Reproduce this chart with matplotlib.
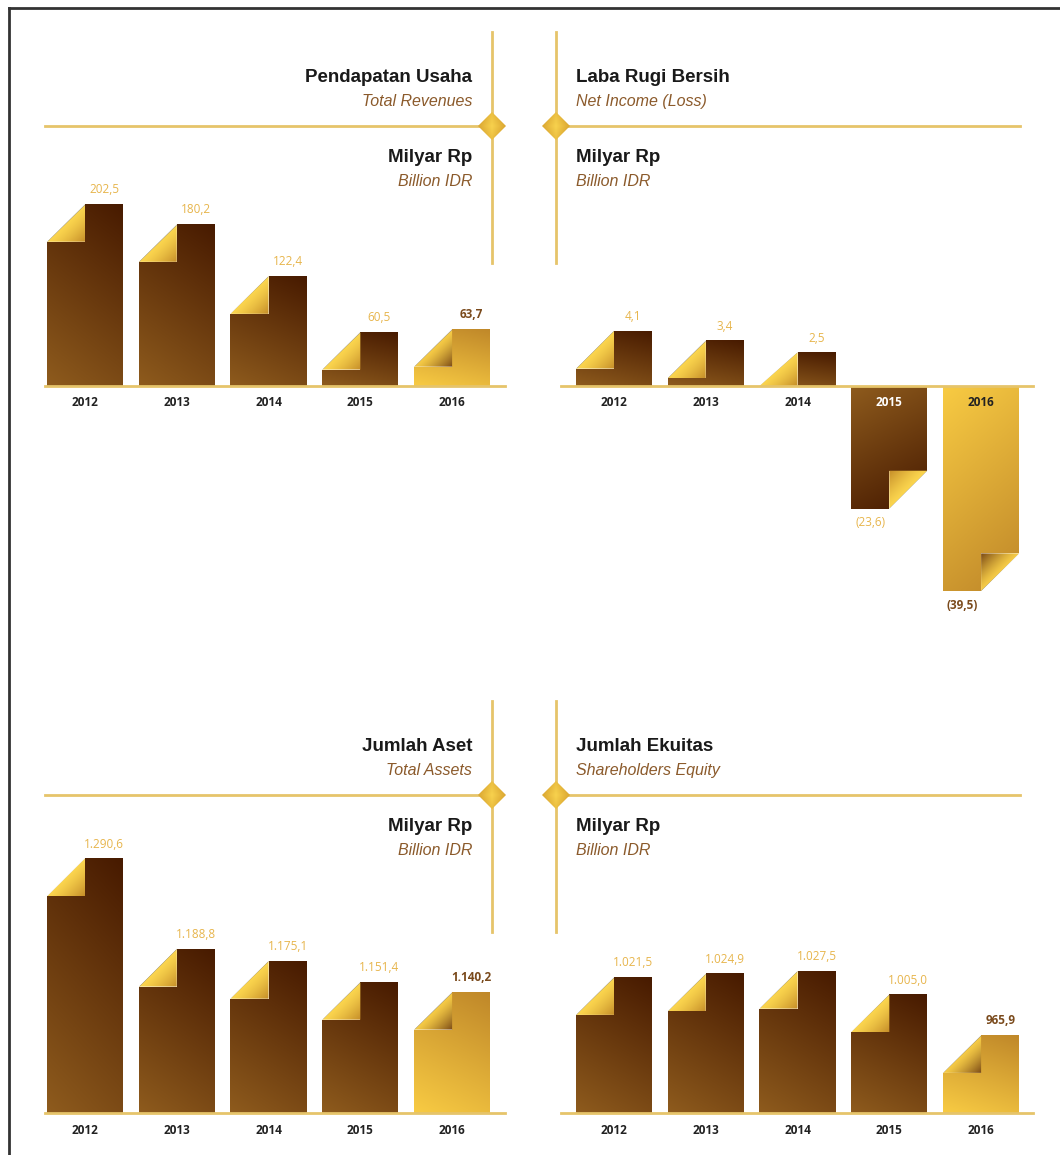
import numpy as np
import matplotlib
matplotlib.use('Agg')
import matplotlib.pyplot as plt
from matplotlib.colors import LinearSegmentedColormap
from matplotlib.patches import Polygon

W, H = 1060, 1155
TITLE_FONT = ['Liberation Sans Narrow', 'Liberation Sans', 'DejaVu Sans']
NUM_FONT = ['Open Sans', 'DejaVu Sans']

YEARS = ['2012', '2013', '2014', '2015', '2016']

REVENUE = [202.5, 180.2, 122.4, 60.5, 63.7]
REVENUE_LABELS = ['202,5', '180,2', '122,4', '60,5', '63,7']

NET_INCOME = [4.1, 3.4, 2.5, -23.6, -39.5]
NET_INCOME_LABELS = ['4,1', '3,4', '2,5', '(23,6)', '(39,5)']

ASSETS = [1290.6, 1188.8, 1175.1, 1151.4, 1140.2]
ASSETS_LABELS = ['1.290,6', '1.188,8', '1.175,1', '1.151,4', '1.140,2']

EQUITY = [1021.5, 1024.9, 1027.5, 1005.0, 965.9]
EQUITY_LABELS = ['1.021,5', '1.024,9', '1.027,5', '1.005,0', '965,9']

# colours, light -> dark
BROWN = ('#8e5b1d', '#471a00')
GOLD = ('#f8cb43', '#bf8729')
FOLD = ('#fbd54e', '#c48c28')
FOLD_GOLD = ('#f6cb46', '#7a4915')
LINE = '#e6c46a'
VALUE_COLOR = '#e7b54c'
LAST_COLOR = '#7a4a1c'
SUB_COLOR = '#8b5a2b'

FOLD_PX = 38
BAR_WIDTH = 0.83
NEG_STRETCH = 2.6  # net income: positive values drawn taller than losses


def add_px_axes(fig, left, top, right, bottom):
    # axes placed by pixel box (origin top-left)
    ax = fig.add_axes([left / W, 1 - bottom / H, (right - left) / W, (bottom - top) / H])
    ax.axis('off')
    return ax


def fill_gradient(ax, verts, c0, c1, weight, zorder=2):
    # fill polygon with a 2D gradient, weight(u, v) in 0..1 over its bbox
    patch = Polygon(verts, closed=True, facecolor='none', edgecolor='none')
    ax.add_patch(patch)
    pts = ax.transAxes.inverted().transform(ax.transData.transform(np.asarray(verts)))
    x0, y0 = pts.min(axis=0)
    x1, y1 = pts.max(axis=0)
    u, v = np.meshgrid(np.linspace(0, 1, 80), np.linspace(0, 1, 80))
    t = np.clip(weight(u, v), 0, 1)
    cmap = LinearSegmentedColormap.from_list('grad', [c0, c1])
    im = ax.imshow(t, cmap=cmap, vmin=0, vmax=1, origin='lower',
                   extent=[x0, x1, y0, y1], transform=ax.transAxes,
                   aspect='auto', interpolation='bilinear', zorder=zorder)
    im.set_clip_path(patch)


def draw_bars(ax, values, labels, base):
    to_px = ax.transData.transform
    to_data = ax.transData.inverted().transform
    n = len(values)
    for i, (val, lab) in enumerate(zip(values, labels)):
        last = i == n - 1
        x0, x1, xm = i - BAR_WIDTH / 2, i + BAR_WIDTH / 2, i
        body_c = GOLD if last else BROWN
        fold_c = FOLD_GOLD if last else FOLD
        _, by = to_px((xm, base))
        tx, ty = to_px((xm, val))
        f = min(FOLD_PX, abs(ty - by))
        if val >= base:
            fy = to_data((tx, ty - f))[1]
            body = [(x0, base), (x0, fy), (xm, fy), (xm, val), (x1, val), (x1, base)]
            fold = [(x0, fy), (xm, val), (xm, fy)]
            fill_gradient(ax, body, *body_c, lambda u, v: 0.75 * v + 0.25 * u)
            fill_gradient(ax, fold, *fold_c, lambda u, v: (u - v) ** 1.3, zorder=2.1)
            ax.annotate(lab, xy=(i + BAR_WIDTH / 4, val), xytext=(0, 14),
                        textcoords='offset pixels', ha='center', va='center',
                        fontsize=8.5, family=NUM_FONT,
                        color=LAST_COLOR if last else VALUE_COLOR,
                        fontweight='bold' if last else 'normal')
            ax.annotate(YEARS[i], xy=(i, base), xytext=(0, -17),
                        textcoords='offset pixels', ha='center', va='center',
                        fontsize=8.5, family=NUM_FONT, fontweight='bold',
                        color='#222222')
        else:
            fy = to_data((tx, ty + f))[1]
            body = [(x0, base), (x0, val), (xm, val), (xm, fy), (x1, fy), (x1, base)]
            fold = [(xm, fy), (xm, val), (x1, fy)]
            fill_gradient(ax, body, *body_c, lambda u, v: 0.75 * (1 - v) + 0.25 * u)
            fill_gradient(ax, fold, *fold_c, lambda u, v: (v - u) ** 1.3, zorder=2.1)
            ax.annotate(lab, xy=(i - BAR_WIDTH / 4, val), xytext=(0, -14),
                        textcoords='offset pixels', ha='center', va='center',
                        fontsize=8.5, family=NUM_FONT,
                        color=LAST_COLOR if last else VALUE_COLOR,
                        fontweight='bold' if last else 'normal')
            ax.annotate(YEARS[i], xy=(i, base), xytext=(0, -17),
                        textcoords='offset pixels', ha='center', va='center',
                        fontsize=8.5, family=NUM_FONT, fontweight='bold',
                        color='#222222' if last else 'white', zorder=5)


def bar_axes(fig, left, right, top, baseline, base, px_per_unit):
    ax = add_px_axes(fig, left, top, right, baseline)
    ax.set_xlim(-0.5, 4.5)
    ax.set_ylim(base, base + (baseline - top) / px_per_unit)
    return ax


def baseline_line(ax, base, x_from, x_to, left, right):
    span = right - left
    ax.axhline(base, xmin=(x_from - left) / span, xmax=(x_to - left) / span,
               color=LINE, lw=2, clip_on=False, zorder=3)


def diamond(deco, x, y, r=14):
    verts = [(x - r, y), (x, y - r), (x + r, y), (x, y + r)]
    fill_gradient(deco, verts, '#f8d24e', '#cf9526',
                  lambda u, v: np.abs(u - 0.5) * 1.4 + np.abs(v - 0.5) * 0.6, zorder=4)


def headers(deco, dy, x, ha, title, subtitle):
    deco.text(x, 82 + dy, title, ha=ha, va='baseline', fontsize=13.5,
              family=TITLE_FONT, fontweight='bold', color='#1a1a1a')
    deco.text(x, 106 + dy, subtitle, ha=ha, va='baseline', fontsize=11.5,
              family=TITLE_FONT, style='italic', color=SUB_COLOR)
    deco.text(x, 162 + dy, 'Milyar Rp', ha=ha, va='baseline', fontsize=13.5,
              family=TITLE_FONT, fontweight='bold', color='#1a1a1a')
    deco.text(x, 186 + dy, 'Billion IDR', ha=ha, va='baseline', fontsize=11.5,
              family=TITLE_FONT, style='italic', color=SUB_COLOR)


def main():
    fig = plt.figure(figsize=(W / 100, H / 100), dpi=100)

    # decoration layer in pixel coordinates
    deco = fig.add_axes([0, 0, 1, 1])
    deco.set_xlim(0, W)
    deco.set_ylim(H, 0)
    deco.axis('off')
    deco.plot([9, W], [8, 8], color='#333333', lw=2)
    deco.plot([9, 9], [8, H], color='#333333', lw=2)

    for dy in (0, 669):
        deco.plot([45, 492], [126 + dy, 126 + dy], color=LINE, lw=2)
        deco.plot([556, 1020], [126 + dy, 126 + dy], color=LINE, lw=2)
        deco.plot([492, 492], [32 + dy, 263 + dy], color=LINE, lw=2)
        deco.plot([556, 556], [32 + dy, 263 + dy], color=LINE, lw=2)
        diamond(deco, 492, 126 + dy)
        diamond(deco, 556, 126 + dy)

    headers(deco, 0, 472, 'right', 'Pendapatan Usaha', 'Total Revenues')
    headers(deco, 0, 576, 'left', 'Laba Rugi Bersih', 'Net Income (Loss)')
    headers(deco, 669, 472, 'right', 'Jumlah Aset', 'Total Assets')
    headers(deco, 669, 576, 'left', 'Jumlah Ekuitas', 'Shareholders Equity')

    left_l, right_l = 39.1, 498.0
    left_r, right_r = 568.1, 1027.0

    # revenue
    ax1 = bar_axes(fig, left_l, right_l, 160, 386, 0, 0.9)
    draw_bars(ax1, REVENUE, REVENUE_LABELS, 0)
    baseline_line(ax1, 0, 45, 505, left_l, right_l)

    # net income: piecewise scale, gains stretched relative to losses
    ax2 = add_px_axes(fig, left_r, 300, right_r, 620)
    ax2.set_yscale('function', functions=(
        lambda y: np.where(y > 0, y * NEG_STRETCH, y),
        lambda y: np.where(y > 0, y / NEG_STRETCH, y)))
    ax2.set_xlim(-0.5, 4.5)
    ppu = (620 - 386) / 45.0
    ax2.set_ylim(-45, (386 - 300) / ppu / NEG_STRETCH)
    ax2.axis('off')
    draw_bars(ax2, NET_INCOME, NET_INCOME_LABELS, 0)
    baseline_line(ax2, 0, 561, 1033, left_r, right_r)

    # assets
    ax3 = bar_axes(fig, left_l, right_l, 840, 1113, 1003, 0.885)
    draw_bars(ax3, ASSETS, ASSETS_LABELS, 1003)
    baseline_line(ax3, 1003, 45, 505, left_l, right_l)

    # equity
    ax4 = bar_axes(fig, left_r, right_r, 900, 1113, 891, 1.043)
    draw_bars(ax4, EQUITY, EQUITY_LABELS, 891)
    baseline_line(ax4, 891, 561, 1033, left_r, right_r)

    fig.savefig('out.png', dpi=100)


if __name__ == '__main__':
    main()
